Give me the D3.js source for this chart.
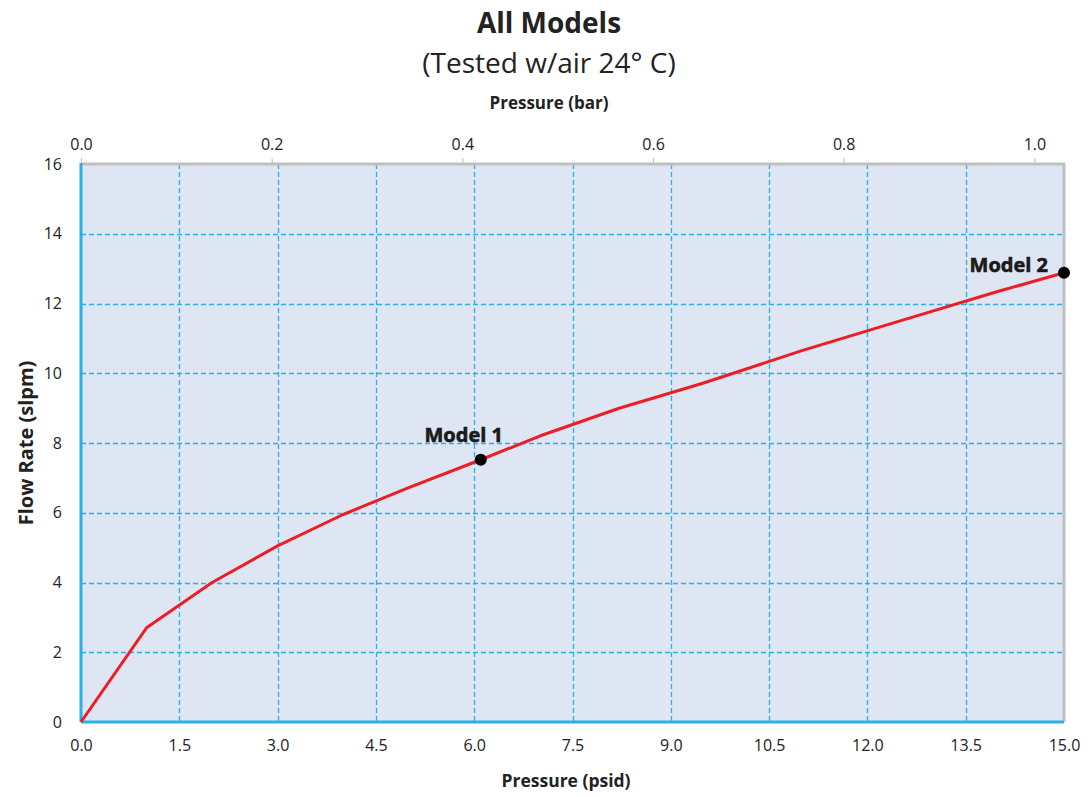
<!DOCTYPE html>
<html>
<head>
<meta charset="utf-8">
<script src="https://cdn.jsdelivr.net/npm/d3@7"></script>
<style>
  body { margin: 0; background: #fff; }
  text { font-family: "Open Sans", "Noto Sans", sans-serif; fill: #222; }
</style>
</head>
<body>
<div id="chart"></div>
<script>
// curve points
var pressurePsi = [0, 1, 2, 3, 4, 5, 6.1, 7, 8.2, 9.5, 11, 12.5, 14, 15];
var flowSlpm = [0, 2.7, 4.0, 5.05, 5.95, 6.72, 7.52, 8.2, 8.99, 9.72, 10.65, 11.5, 12.35, 12.88];

var models = [
    { label: 'Model 1', psi: 6.1, flow: 7.52 },
    { label: 'Model 2', psi: 15.0, flow: 12.88 }
];

var psiTicks = [0, 1.5, 3, 4.5, 6, 7.5, 9, 10.5, 12, 13.5, 15];
var barTicks = [0, 0.2, 0.4, 0.6, 0.8, 1.0];
var flowTicks = [0, 2, 4, 6, 8, 10, 12, 14, 16];

var width = 1090, height = 797;
var margin = { left: 81, top: 164, right: 26, bottom: 75 };

var svg = d3.select("#chart").append("svg")
    .attr("width", width)
    .attr("height", height);

var x = d3.scaleLinear().domain([0, 15]).range([margin.left, width - margin.right]);
var xBar = d3.scaleLinear().domain([0, 1.03]).range([margin.left, margin.left + 982]);
var y = d3.scaleLinear().domain([0, 16]).range([height - margin.bottom, margin.top]);

var gridBlue = "#2bb0e6";

// plot background
svg.append("rect")
    .attr("x", x(0)).attr("y", y(16))
    .attr("width", x(15) - x(0)).attr("height", y(0) - y(16))
    .style("fill", "#dde6f2");

// grid
svg.append("g").selectAll("line")
    .data(psiTicks.slice(1, -1))
    .enter().append("line")
    .attr("x1", d => Math.round(x(d)) + 0.5).attr("x2", d => Math.round(x(d)) + 0.5)
    .attr("y1", y(16)).attr("y2", y(0))
    .style("stroke", gridBlue).style("stroke-width", 1.3)
    .style("stroke-dasharray", "5,3");

svg.append("g").selectAll("line")
    .data(flowTicks.slice(1, -1))
    .enter().append("line")
    .attr("x1", x(0)).attr("x2", x(15))
    .attr("y1", d => Math.round(y(d)) + 0.5).attr("y2", d => Math.round(y(d)) + 0.5)
    .style("stroke", gridBlue).style("stroke-width", 1.3)
    .style("stroke-dasharray", "5,3");

// borders: grey top / right, blue left / bottom
svg.append("line")
    .attr("x1", x(0)).attr("x2", x(15) + 1).attr("y1", y(16)).attr("y2", y(16))
    .style("stroke", "#bfbfbf").style("stroke-width", 3);
svg.append("line")
    .attr("x1", x(15)).attr("x2", x(15)).attr("y1", y(16)).attr("y2", y(0))
    .style("stroke", "#bfbfbf").style("stroke-width", 3);
svg.append("line")
    .attr("x1", x(0)).attr("x2", x(0)).attr("y1", y(16) - 1).attr("y2", y(0))
    .style("stroke", gridBlue).style("stroke-width", 3);
svg.append("line")
    .attr("x1", x(0)).attr("x2", x(15)).attr("y1", y(0)).attr("y2", y(0))
    .style("stroke", gridBlue).style("stroke-width", 3);

// top axis (bar)
var topAxis = svg.append("g")
    .attr("transform", "translate(0," + (y(16) - 1) + ")")
    .call(d3.axisTop(xBar).tickValues(barTicks).tickFormat(d3.format(".1f")).tickSize(5).tickPadding(8));
topAxis.select(".domain").remove();
topAxis.selectAll("line").style("stroke", "#bfbfbf");
topAxis.selectAll("text").style("font-size", "16px").style("fill", "#222");

// bottom axis (psid)
var bottomAxis = svg.append("g")
    .attr("transform", "translate(0," + y(0) + ")")
    .call(d3.axisBottom(x).tickValues(psiTicks).tickFormat(d3.format(".1f")).tickSize(0).tickPadding(18));
bottomAxis.select(".domain").remove();
bottomAxis.selectAll("text").style("font-size", "16px").style("fill", "#222");

// left axis
var leftAxis = svg.append("g")
    .attr("transform", "translate(" + x(0) + ",0)")
    .call(d3.axisLeft(y).tickValues(flowTicks).tickSize(0).tickPadding(19));
leftAxis.select(".domain").remove();
leftAxis.selectAll("text").style("font-size", "16px").style("fill", "#222");

// titles
svg.append("text")
    .attr("x", 549).attr("y", 33)
    .attr("text-anchor", "middle")
    .style("font-size", "28px").style("font-weight", "bold")
    .text("All Models");
svg.append("text")
    .attr("x", 549).attr("y", 73)
    .attr("text-anchor", "middle")
    .style("font-size", "28px")
    .text("(Tested w/air 24° C)");

svg.append("text")
    .attr("x", 549).attr("y", 109)
    .attr("text-anchor", "middle")
    .style("font-size", "17px").style("font-weight", "bold")
    .text("Pressure (bar)");
svg.append("text")
    .attr("x", 566).attr("y", 787)
    .attr("text-anchor", "middle")
    .style("font-size", "17.5px").style("font-weight", "bold")
    .text("Pressure (psid)");
svg.append("text")
    .attr("transform", "translate(33," + 443 + ") rotate(-90)")
    .attr("text-anchor", "middle")
    .style("font-size", "20px").style("font-weight", "bold")
    .text("Flow Rate (slpm)");

// curve
var line = d3.line()
    .x(d => x(d[0]))
    .y(d => y(d[1]));

svg.append("path")
    .datum(d3.zip(pressurePsi, flowSlpm))
    .attr("d", line)
    .style("fill", "none")
    .style("stroke", "#ee1c25")
    .style("stroke-width", 3)
    .style("stroke-linejoin", "round");

// model points
svg.selectAll(".modelDot")
    .data(models)
    .enter().append("circle")
    .attr("class", "modelDot")
    .attr("cx", d => x(d.psi))
    .attr("cy", d => y(d.flow))
    .attr("r", 6)
    .style("fill", "#000");

svg.selectAll(".modelLabel")
    .data(models)
    .enter().append("text")
    .attr("class", "modelLabel")
    .attr("x", (d, i) => i === 0 ? x(d.psi) - 17 : x(d.psi) - 16)
    .attr("y", (d, i) => i === 0 ? y(d.flow) - 18 : y(d.flow) - 1)
    .attr("text-anchor", (d, i) => i === 0 ? "middle" : "end")
    .style("font-size", "20px").style("font-weight", "bold")
    .style("fill", "#1a1a1a")
    .style("stroke", "#1a1a1a").style("stroke-width", 0.6)
    .text(d => d.label);
</script>
</body>
</html>
